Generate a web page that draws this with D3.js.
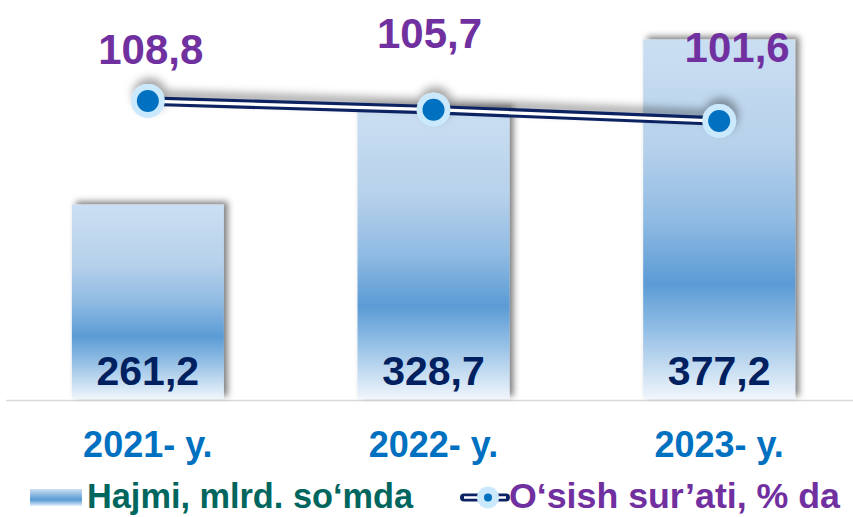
<!DOCTYPE html>
<html><head><meta charset="utf-8">
<script src="https://cdn.jsdelivr.net/npm/d3@7/dist/d3.min.js"></script>
<style>html,body{margin:0;padding:0;background:#fff;}svg{display:block;font-family:"Liberation Sans",Arial,sans-serif;}</style>
</head><body>
<svg id="c" width="853" height="517"></svg>
<script>
const categories = ["2021- y.", "2022- y.", "2023- y."];
const volume = [261.2, 328.7, 377.2];          // Hajmi, mlrd. so‘mda
const growth = [108.8, 105.7, 101.6];          // O‘sish sur’ati, % da
const volumeLabels = ["261,2", "328,7", "377,2"];
const growthLabels = ["108,8", "105,7", "101,6"];
const legendNames = ["Hajmi, mlrd. so‘mda", "O‘sish sur’ati, % da"];
// layout nudges for growth labels (dx, dy from point)
const growthLabelNudge = [[3, -37], [-4, -62], [18, -59]];

const svg = d3.select("#c");
const defs = svg.append("defs");

const grad = defs.append("linearGradient").attr("id", "barGrad").attr("x1", 0).attr("y1", 0).attr("x2", 0).attr("y2", 1);
[[0, "#cbdff2"], [0.3, "#b6d1eb"], [0.5, "#90bbe3"], [0.68, "#5b9bd5"], [0.8, "#8fbce4"], [1, "#f0f6fc"]]
  .forEach(([o, c]) => grad.append("stop").attr("offset", o).attr("stop-color", c));
const lgrad = defs.append("linearGradient").attr("id", "legGrad").attr("x1", 0).attr("y1", 0).attr("x2", 0).attr("y2", 1);
[[0, "#cbdff2"], [0.5, "#6fa7da"], [0.65, "#5b9bd5"], [1, "#e6f0fa"]]
  .forEach(([o, c]) => lgrad.append("stop").attr("offset", o).attr("stop-color", c));

const sh = defs.append("filter").attr("id", "barShadow").attr("x", "-20%").attr("y", "-20%").attr("width", "140%").attr("height", "140%");
sh.append("feDropShadow").attr("dx", 4).attr("dy", -3).attr("stdDeviation", 3).attr("flood-color", "#000").attr("flood-opacity", 0.5);
const sh2 = defs.append("filter").attr("id", "lineShadow").attr("x", "-20%").attr("y", "-50%").attr("width", "140%").attr("height", "200%");
sh2.append("feDropShadow").attr("dx", 2).attr("dy", -6).attr("stdDeviation", 4).attr("flood-color", "#000").attr("flood-opacity", 0.35);

const x = d3.scaleBand().domain(categories).range([5, 862]).paddingInner(0.468).paddingOuter(0.234);
const yBar = d3.scaleLinear().domain([124.5, 400]).range([399, 7.1]);
const yLine = d3.scaleLinear().domain([90, 115]).range([153.3, 83.8]);

// axis baseline
svg.append("line").attr("x1", 6).attr("x2", 853).attr("y1", 400.5).attr("y2", 400.5)
  .attr("stroke", "#d9d9d9").attr("stroke-width", 1.5);

// bars
svg.append("g").selectAll("rect").data(volume).join("rect")
  .attr("x", (d, i) => x(categories[i]))
  .attr("width", x.bandwidth())
  .attr("y", d => yBar(d))
  .attr("height", d => yBar.range()[0] - yBar(d))
  .attr("fill", "url(#barGrad)")
  .attr("filter", "url(#barShadow)");

// bar labels
svg.append("g").selectAll("text").data(volume).join("text")
  .attr("x", (d, i) => x(categories[i]) + x.bandwidth() / 2)
  .attr("y", yBar.range()[0] - 14)
  .attr("text-anchor", "middle")
  .attr("font-size", 41).attr("font-weight", "bold").attr("fill", "#002060")
  .text((d, i) => volumeLabels[i]);

// category labels
svg.append("g").selectAll("text").data(categories).join("text")
  .attr("x", d => x(d) + x.bandwidth() / 2)
  .attr("y", 456.5)
  .attr("text-anchor", "middle")
  .attr("font-size", 36).attr("font-weight", "bold").attr("fill", "#0070c0")
  .text(d => d);

// growth line
const cx = (d, i) => x(categories[i]) + x.bandwidth() / 2;
const line = d3.line().x(cx).y(d => yLine(d));
const lg = svg.append("g").attr("filter", "url(#lineShadow)");
lg.append("path").datum(growth).attr("d", line).attr("fill", "none").attr("stroke", "#0c2461").attr("stroke-width", 9.5);
lg.append("path").datum(growth).attr("d", line).attr("fill", "none").attr("stroke", "#ffffff").attr("stroke-width", 3.2);
lg.selectAll("circle.o").data(growth).join("circle").attr("class", "o")
  .attr("cx", cx).attr("cy", d => yLine(d)).attr("r", 17).attr("fill", "#cbe9fc");
lg.selectAll("circle.i").data(growth).join("circle").attr("class", "i")
  .attr("cx", cx).attr("cy", d => yLine(d)).attr("r", 11).attr("fill", "#0070c0");

// growth labels
svg.append("g").selectAll("text").data(growth).join("text")
  .attr("x", (d, i) => cx(d, i) + growthLabelNudge[i][0])
  .attr("y", (d, i) => yLine(d) + growthLabelNudge[i][1])
  .attr("text-anchor", "middle")
  .attr("font-size", 42).attr("font-weight", "bold").attr("fill", "#7030a0")
  .text((d, i) => growthLabels[i]);

// legend
const leg = svg.append("g");
leg.append("rect").attr("x", 30).attr("y", 489).attr("width", 52).attr("height", 17).attr("fill", "url(#legGrad)");
leg.append("text").attr("x", 87).attr("y", 507.5).attr("font-size", 35).attr("font-weight", "bold")
  .attr("textLength", 326).attr("lengthAdjust", "spacingAndGlyphs")
  .attr("fill", "#00665e").text(legendNames[0]);
leg.append("line").attr("x1", 464).attr("x2", 506).attr("y1", 497.5).attr("y2", 497.5)
  .attr("stroke", "#0c2461").attr("stroke-width", 8).attr("stroke-linecap", "round");
leg.append("line").attr("x1", 464).attr("x2", 506).attr("y1", 497.5).attr("y2", 497.5)
  .attr("stroke", "#fff").attr("stroke-width", 2.6);
leg.append("circle").attr("cx", 488).attr("cy", 497.5).attr("r", 11).attr("fill", "#cbe9fc");
leg.append("circle").attr("cx", 488).attr("cy", 497.5).attr("r", 4).attr("fill", "#0070c0");
leg.append("text").attr("x", 509).attr("y", 507.5).attr("font-size", 35).attr("font-weight", "bold")
  .attr("textLength", 331).attr("lengthAdjust", "spacingAndGlyphs")
  .attr("fill", "#7030a0").text(legendNames[1]);
</script>
</body></html>
